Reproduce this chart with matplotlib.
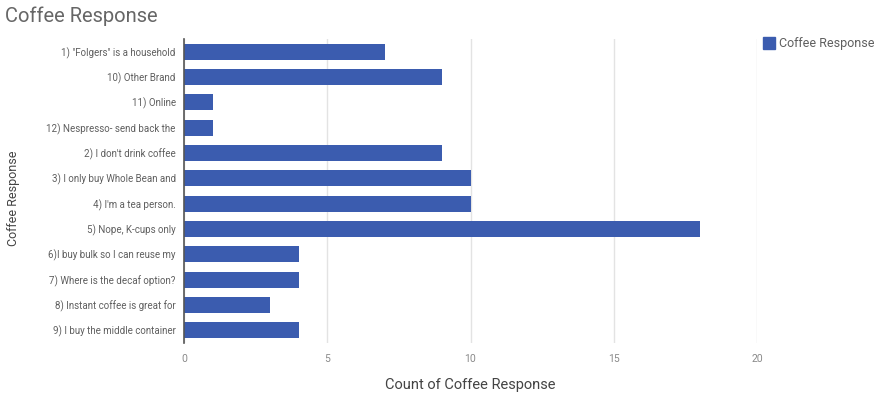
import matplotlib
matplotlib.use("Agg")
import matplotlib.pyplot as plt

plt.rcParams['font.family'] = ['Roboto', 'DejaVu Sans']

categories = [
    '1) "Folgers" is a household',
    '10) Other Brand',
    '11) Online',
    '12) Nespresso- send back the',
    "2) I don't drink coffee",
    '3) I only buy Whole Bean and',
    "4) I'm a tea person.",
    '5) Nope, K-cups only',
    '6)I buy bulk so I can reuse my',
    '7) Where is the decaf option?',
    '8) Instant coffee is great for',
    '9) I buy the middle container',
]
counts = [7, 9, 1, 1, 9, 10, 10, 18, 4, 4, 3, 4]
x_ticks = [0, 5, 10, 15, 20]

bar_color = '#3B5CAF'
text_gray = '#5f5f5f'
grid_gray = '#e3e3e3'

fig = plt.figure(figsize=(8.77, 3.93), dpi=100)
ax = fig.add_axes([184 / 877, 1 - 343 / 393, (757 - 184) / 877, (343 - 39) / 393])

y = list(range(len(categories)))
ax.barh(y, counts, height=0.64, color=bar_color, zorder=3)
ax.set_ylim(len(categories) - 0.5, -0.5)
ax.set_xlim(0, 20)

ax.set_yticks(y)
ax.set_yticklabels(categories, fontsize=7, color=text_gray)
ax.set_xticks(x_ticks)
ax.set_xticklabels([str(t) for t in x_ticks], fontsize=7.5, color='#8a8a8a')
ax.tick_params(axis='y', length=0, pad=6)
ax.tick_params(axis='x', length=0, pad=8)

ax.grid(axis='x', color=grid_gray, linewidth=1, zorder=0)
for s in ['top', 'right', 'bottom']:
    ax.spines[s].set_visible(False)
ax.spines['left'].set_color('#555555')
ax.spines['left'].set_linewidth(1.2)
ax.spines['left'].set_zorder(4)

ax.set_xlabel('Count of Coffee Response', fontsize=10.5, color='#444444', labelpad=10)
fig.text(14 / 877, 1 - 198 / 393, 'Coffee Response', rotation=90, fontsize=9,
         color='#444444', ha='center', va='center')

fig.text(5 / 877, 1 - 16 / 393, 'Coffee Response', fontsize=14.5, color='#666666',
         ha='left', va='center')

# legend
fig.patches.append(plt.Rectangle((763 / 877, 1 - 49 / 393), 12 / 877, 12 / 393,
                                 transform=fig.transFigure, color=bar_color))
fig.text(779 / 877, 1 - 43 / 393, 'Coffee Response', fontsize=9, color=text_gray,
         ha='left', va='center')

fig.savefig('out.png', dpi=100)
